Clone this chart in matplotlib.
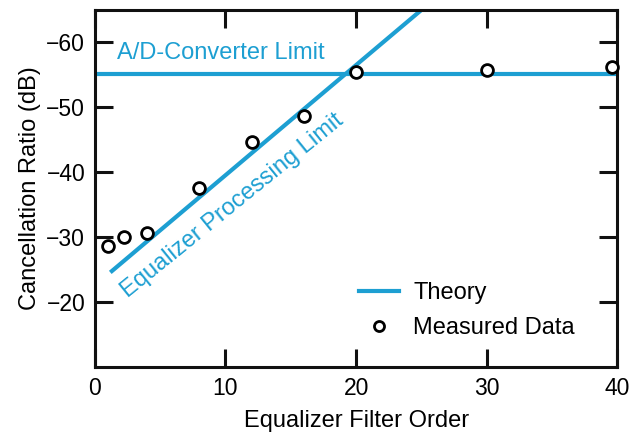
import numpy as np
import matplotlib.pyplot as plt

plt.rcParams['font.family'] = ['Liberation Sans', 'DejaVu Sans']

# measured cancellation vs equalizer filter order
order_meas = [1.0, 2.2, 4.0, 8.0, 12.0, 16.0, 20.0, 30.0, 39.6]
cancel_meas = [-28.7, -30.0, -30.7, -37.6, -44.7, -48.6, -55.4, -55.8, -56.2]

# theory: A/D converter floor and equalizer processing limit
adc_limit = -55.2
eq_order = [1.3, 25.0]
eq_limit = [-24.8, -65.0]

blue = '#1d9fd2'

fig = plt.figure(figsize=(6.37, 4.34), dpi=100)
ax = fig.add_axes([0.149, 0.154, 0.820, 0.823])

ax.axhline(adc_limit, color=blue, linewidth=3, zorder=2)
ax.plot(eq_order, eq_limit, color=blue, linewidth=3, zorder=2, label='Theory')
ax.plot(order_meas, cancel_meas, linestyle='none', marker='o', markersize=8.5,
        markerfacecolor='white', markeredgecolor='black', markeredgewidth=2,
        zorder=3, clip_on=False, label='Measured Data')

ax.text(1.7, -57.4, 'A/D-Converter Limit', color=blue, fontsize=17)
ax.text(2.5, -20.7, 'Equalizer Processing Limit', color=blue, fontsize=17,
        rotation=39, rotation_mode='anchor', ha='left', va='baseline')

ax.set_xlim(0, 40)
ax.set_ylim(-10, -65)
ax.set_xticks([0, 10, 20, 30, 40])
ax.set_yticks([-20, -30, -40, -50, -60])
ax.set_yticklabels(['\u221220', '\u221230', '\u221240', '\u221250', '\u221260'])
ax.tick_params(direction='in', length=13, width=2.2, labelsize=16.5, pad=7,
               top=True, right=True, color='#111111')
for s in ax.spines.values():
    s.set_linewidth(2.2)
    s.set_color('#111111')

ax.set_xlabel('Equalizer Filter Order', fontsize=17, labelpad=7)
ax.set_ylabel('Cancellation Ratio (dB)', fontsize=17, labelpad=4)

ax.legend(loc='lower right', bbox_to_anchor=(0.96, 0.02), frameon=False,
          fontsize=17, handlelength=1.7, handletextpad=0.6, labelspacing=0.55,
          markerscale=0.85)

fig.savefig('out.png', dpi=100)
